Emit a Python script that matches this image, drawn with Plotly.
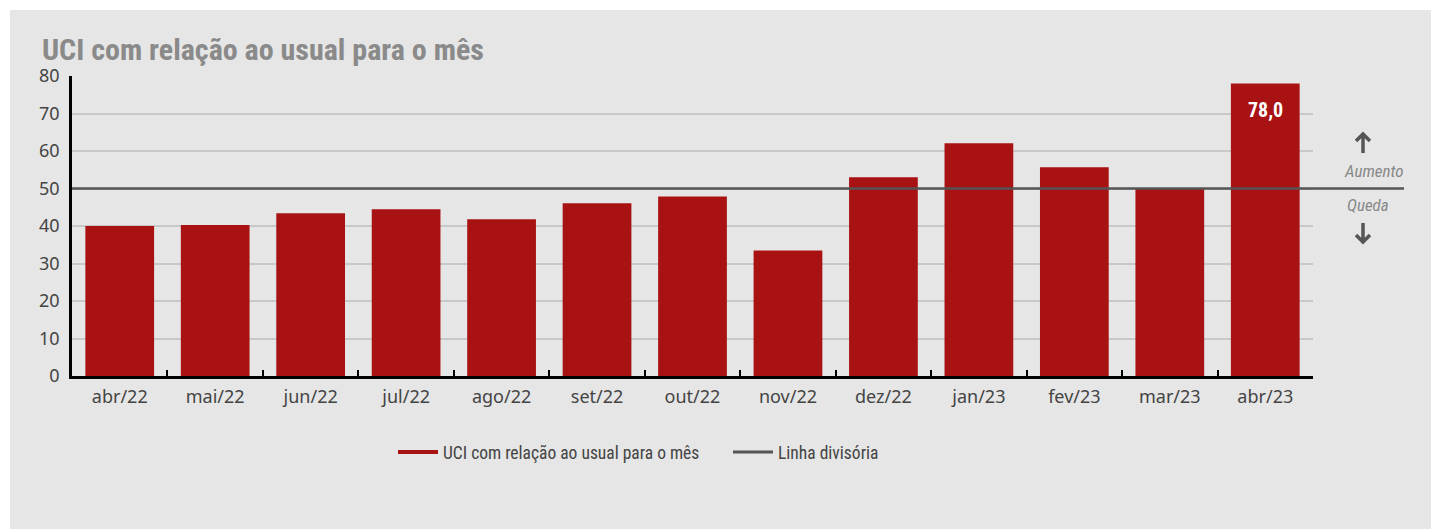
import plotly.graph_objects as go

categories = ["abr/22", "mai/22", "jun/22", "jul/22", "ago/22", "set/22", "out/22",
              "nov/22", "dez/22", "jan/23", "fev/23", "mar/23", "abr/23"]
uci_values = [40.0, 40.3, 43.4, 44.5, 41.8, 46.1, 47.9, 33.5, 53.0, 62.1, 55.7, 50.1, 78.0]
divider_value = 50
y_ticks = [0, 10, 20, 30, 40, 50, 60, 70, 80]

title_text = "UCI com relação ao usual para o mês"
series_name = "UCI com relação ao usual para o mês"
divider_name = "Linha divisória"

RED = "#a91212"
DARK = "#555555"
BG = "#e6e6e6"
COND = "Roboto Condensed, Noto Sans, sans-serif"
TICKFONT = dict(family="Noto Sans, sans-serif", size=18, color="#444444")

OFF = 8  # browser body margin
W, H = 1439 - OFF, 529 - OFF
L, T = 72 - OFF, 76 - OFF
R = W - (1313 - OFF)
B = H - (376 - OFF)
pw = W - L - R
ph = H - T - B


def px_x(p):
    return (p - OFF - L) / pw


def px_y(p):
    return (H - B - (p - OFF)) / ph


fig = go.Figure()
fig.add_trace(go.Bar(
    x=categories, y=uci_values, marker=dict(color=RED, line=dict(width=0)),
    showlegend=False, hoverinfo="x+y",
))
fig.add_trace(go.Scatter(x=[None], y=[None], mode="lines", name=series_name,
                         line=dict(color=RED, width=4)))
fig.add_trace(go.Scatter(x=[None], y=[None], mode="lines", name=divider_name,
                         line=dict(color=DARK, width=3)))

last = len(uci_values) - 1
fig.add_annotation(x=categories[last], y=uci_values[last], xref="x", yref="y",
                   text="<b>" + f"{uci_values[last]:.1f}".replace(".", ",") + "</b>",
                   showarrow=False, yanchor="top", yshift=-12,
                   font=dict(family=COND, size=20, color="white"))

fig.add_shape(type="line", xref="paper", yref="y", x0=0, x1=px_x(1404),
              y0=divider_value, y1=divider_value, line=dict(color=DARK, width=2.5), layer="above")

fig.add_shape(type="rect", xref="paper", yref="paper", x0=px_x(0), x1=px_x(1445),
              y0=px_y(10), y1=px_y(0), fillcolor="white", line=dict(width=0), layer="below")
fig.add_shape(type="rect", xref="paper", yref="paper", x0=px_x(0), x1=px_x(10),
              y0=px_y(535), y1=px_y(0), fillcolor="white", line=dict(width=0), layer="below")


def arrow_path(cx, tip, tail):
    d = 7 if tail > tip else -7
    return (f"M {px_x(cx)},{px_y(tail)} L {px_x(cx)},{px_y(tip + d * 0.15)} "
            f"M {px_x(cx - 7)},{px_y(tip + d)} L {px_x(cx)},{px_y(tip)} L {px_x(cx + 7)},{px_y(tip + d)}")


fig.add_shape(type="path", xref="paper", yref="paper", path=arrow_path(1363, 134, 153),
              line=dict(color=DARK, width=3.5))
fig.add_shape(type="path", xref="paper", yref="paper", path=arrow_path(1363, 242, 223),
              line=dict(color=DARK, width=3.5))

side_font = dict(family=COND, size=17, color="#888888", style="italic")
fig.add_annotation(xref="paper", yref="paper", x=px_x(1374), y=px_y(171), text="Aumento",
                   showarrow=False, font=side_font, xanchor="center", yanchor="middle")
fig.add_annotation(xref="paper", yref="paper", x=px_x(1368), y=px_y(205), text="Queda",
                   showarrow=False, font=side_font, xanchor="center", yanchor="middle")

fig.update_layout(
    width=W, height=H,
    margin=dict(l=L, r=R, t=T, b=B, pad=0),
    paper_bgcolor=BG, plot_bgcolor=BG,
    bargap=0.28,
    title=dict(text="<b>" + title_text + "</b>", xref="container", yref="container",
               x=(42 - OFF) / W, y=1 - (49 - OFF) / H, xanchor="left", yanchor="middle",
               font=dict(family=COND, size=30, color="#8a8a8a")),
    legend=dict(orientation="h", x=px_x(393), y=px_y(452), xanchor="left", yanchor="middle",
                font=dict(family=COND, size=17.5, color="#444444"),
                bgcolor="rgba(0,0,0,0)", itemwidth=40, tracegroupgap=0,
                entrywidth=280, entrywidthmode="pixels"),
    xaxis=dict(type="category", tickson="boundaries", ticks="inside", ticklen=6,
               tickwidth=2, tickcolor="black", showline=True, linecolor="black", linewidth=2.5,
               showgrid=False, tickfont=TICKFONT, ticklabelstandoff=3),
    yaxis=dict(range=[0, 80], tickvals=y_ticks, showline=True, linecolor="black", linewidth=2.5,
               showgrid=True, gridcolor="#c8c8c8", gridwidth=1.5, zeroline=False,
               tickfont=TICKFONT, ticks="", ticklabelstandoff=6),
)

fig.write_html("out.html")
